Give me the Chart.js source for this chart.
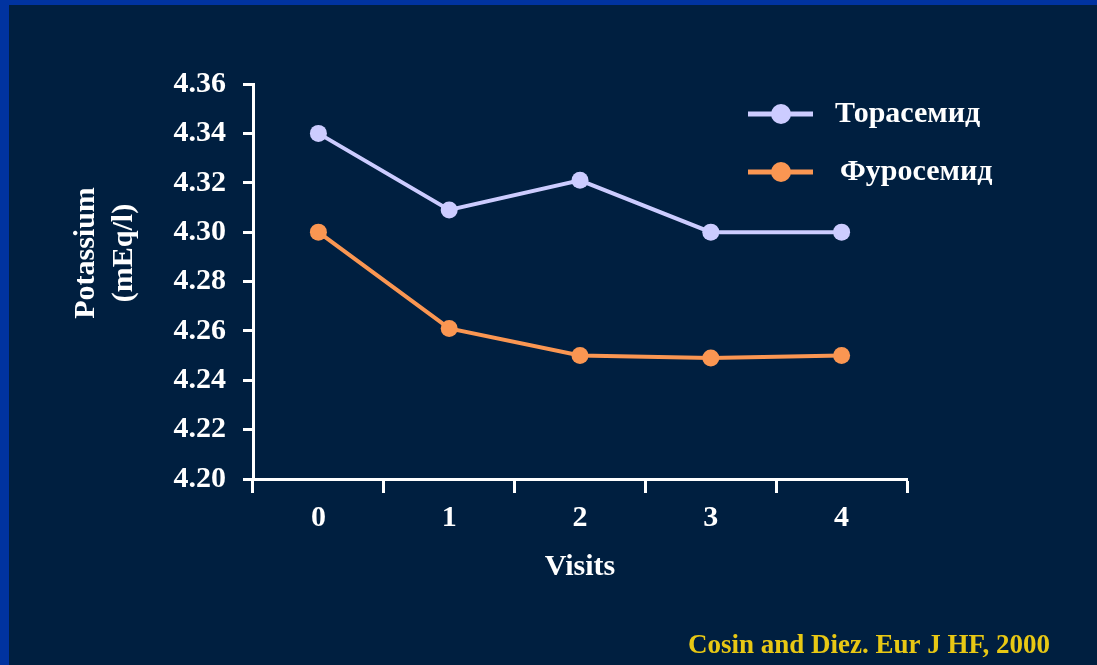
<!DOCTYPE html>
<html>
<head>
<meta charset="utf-8">
<script src="https://cdn.jsdelivr.net/npm/chart.js@4"></script>
<style>
  html, body { margin: 0; padding: 0; width: 1097px; height: 665px; overflow: hidden; background: #0033a0; }
  #panel { position: absolute; left: 9px; top: 5px; right: 0; bottom: 0; background: #001f40; }
  #wrap { position: absolute; left: 0; top: 0; width: 1097px; height: 665px; }
</style>
</head>
<body>
<div id="panel"></div>
<div id="wrap"><canvas id="c" width="1097" height="665"></canvas></div>
<script>
// ---- data ----
const visits = ['0', '1', '2', '3', '4'];
const torasemide = [4.34, 4.309, 4.321, 4.30, 4.30];
const furosemide = [4.30, 4.261, 4.25, 4.249, 4.25];
const yTickValues = [4.20, 4.22, 4.24, 4.26, 4.28, 4.30, 4.32, 4.34, 4.36];
const seriesNames = ['Торасемид', 'Фуросемид'];
const yTitleLines = ['Potassium', '(mEq/l)'];
const xTitle = 'Visits';
const citation = 'Cosin and Diez. Eur J HF, 2000';

// ---- styles ----
const WHITE = '#ffffff';
const LAVENDER = '#ccccff';
const ORANGE = '#fa9652';
const YELLOW = '#e8c814';
const SERIF = '"Liberation Serif", "Times New Roman", serif';

const overlayPlugin = {
  id: 'overlay',
  afterDraw(chart) {
    const ctx = chart.ctx;
    ctx.save();
    // y-axis title (two lines, rotated)
    ctx.fillStyle = WHITE;
    ctx.font = 'bold 30px ' + SERIF;
    ctx.textAlign = 'center';
    ctx.textBaseline = 'middle';
    const yxs = [86, 124];
    yTitleLines.forEach((t, i) => {
      ctx.save();
      ctx.translate(yxs[i], 253);
      ctx.rotate(-Math.PI / 2);
      ctx.fillText(t, 0, 0);
      ctx.restore();
    });
    // legend
    const rows = [114, 172];
    const textX = [835, 840];
    chart.data.datasets.forEach((ds, i) => {
      const y = rows[i];
      ctx.strokeStyle = ds.borderColor;
      ctx.lineWidth = 5;
      ctx.beginPath();
      ctx.moveTo(748, y);
      ctx.lineTo(813, y);
      ctx.stroke();
      ctx.fillStyle = ds.backgroundColor;
      ctx.beginPath();
      ctx.arc(781, y, 10, 0, Math.PI * 2);
      ctx.fill();
      ctx.fillStyle = WHITE;
      ctx.font = 'bold 30px ' + SERIF;
      ctx.textAlign = 'left';
      ctx.textBaseline = 'middle';
      ctx.fillText(ds.label, textX[i], y);
    });
    // citation
    ctx.fillStyle = YELLOW;
    ctx.font = 'bold 27px ' + SERIF;
    ctx.textAlign = 'left';
    ctx.textBaseline = 'alphabetic';
    ctx.fillText(citation, 688, 653);
    ctx.restore();
  }
};

new Chart(document.getElementById('c'), {
  type: 'line',
  data: {
    labels: visits,
    datasets: [
      {
        label: seriesNames[0],
        data: torasemide,
        borderColor: LAVENDER,
        backgroundColor: LAVENDER,
        borderWidth: 4,
        pointRadius: 8.5,
        pointBorderWidth: 0,
        pointBackgroundColor: LAVENDER,
        tension: 0
      },
      {
        label: seriesNames[1],
        data: furosemide,
        borderColor: ORANGE,
        backgroundColor: ORANGE,
        borderWidth: 4,
        pointRadius: 8.5,
        pointBorderWidth: 0,
        pointBackgroundColor: ORANGE,
        tension: 0
      }
    ]
  },
  options: {
    responsive: false,
    animation: false,
    layout: { padding: { top: 84, right: 190, left: 0, bottom: 0 } },
    plugins: {
      legend: { display: false },
      tooltip: { enabled: false }
    },
    scales: {
      x: {
        type: 'category',
        offset: true,
        grid: {
          offset: true,
          drawOnChartArea: false,
          drawTicks: true,
          tickLength: 14,
          tickWidth: 3,
          tickColor: WHITE,
          color: WHITE
        },
        border: { display: true, color: WHITE, width: 3 },
        ticks: {
          color: WHITE,
          font: { family: SERIF, size: 30, weight: 'bold' },
          padding: 7,
          maxRotation: 0
        },
        title: {
          display: true,
          text: xTitle,
          color: WHITE,
          font: { family: SERIF, size: 30, weight: 'bold' },
          padding: { top: 0, bottom: 80 }
        },
        afterFit(scale) { scale.height = 186; }
      },
      y: {
        min: 4.20,
        max: 4.36,
        afterBuildTicks(scale) { scale.ticks = yTickValues.map(v => ({ value: v })); },
        grid: {
          drawOnChartArea: false,
          drawTicks: true,
          tickLength: 10,
          tickWidth: 3,
          tickColor: WHITE,
          color: WHITE
        },
        border: { display: true, color: WHITE, width: 3 },
        ticks: {
          color: WHITE,
          font: { family: SERIF, size: 30, weight: 'bold' },
          padding: 17,
          callback: v => Number(v).toFixed(2)
        },
        afterFit(scale) { scale.width = 253; }
      }
    }
  },
  plugins: [overlayPlugin]
});
</script>
</body>
</html>
